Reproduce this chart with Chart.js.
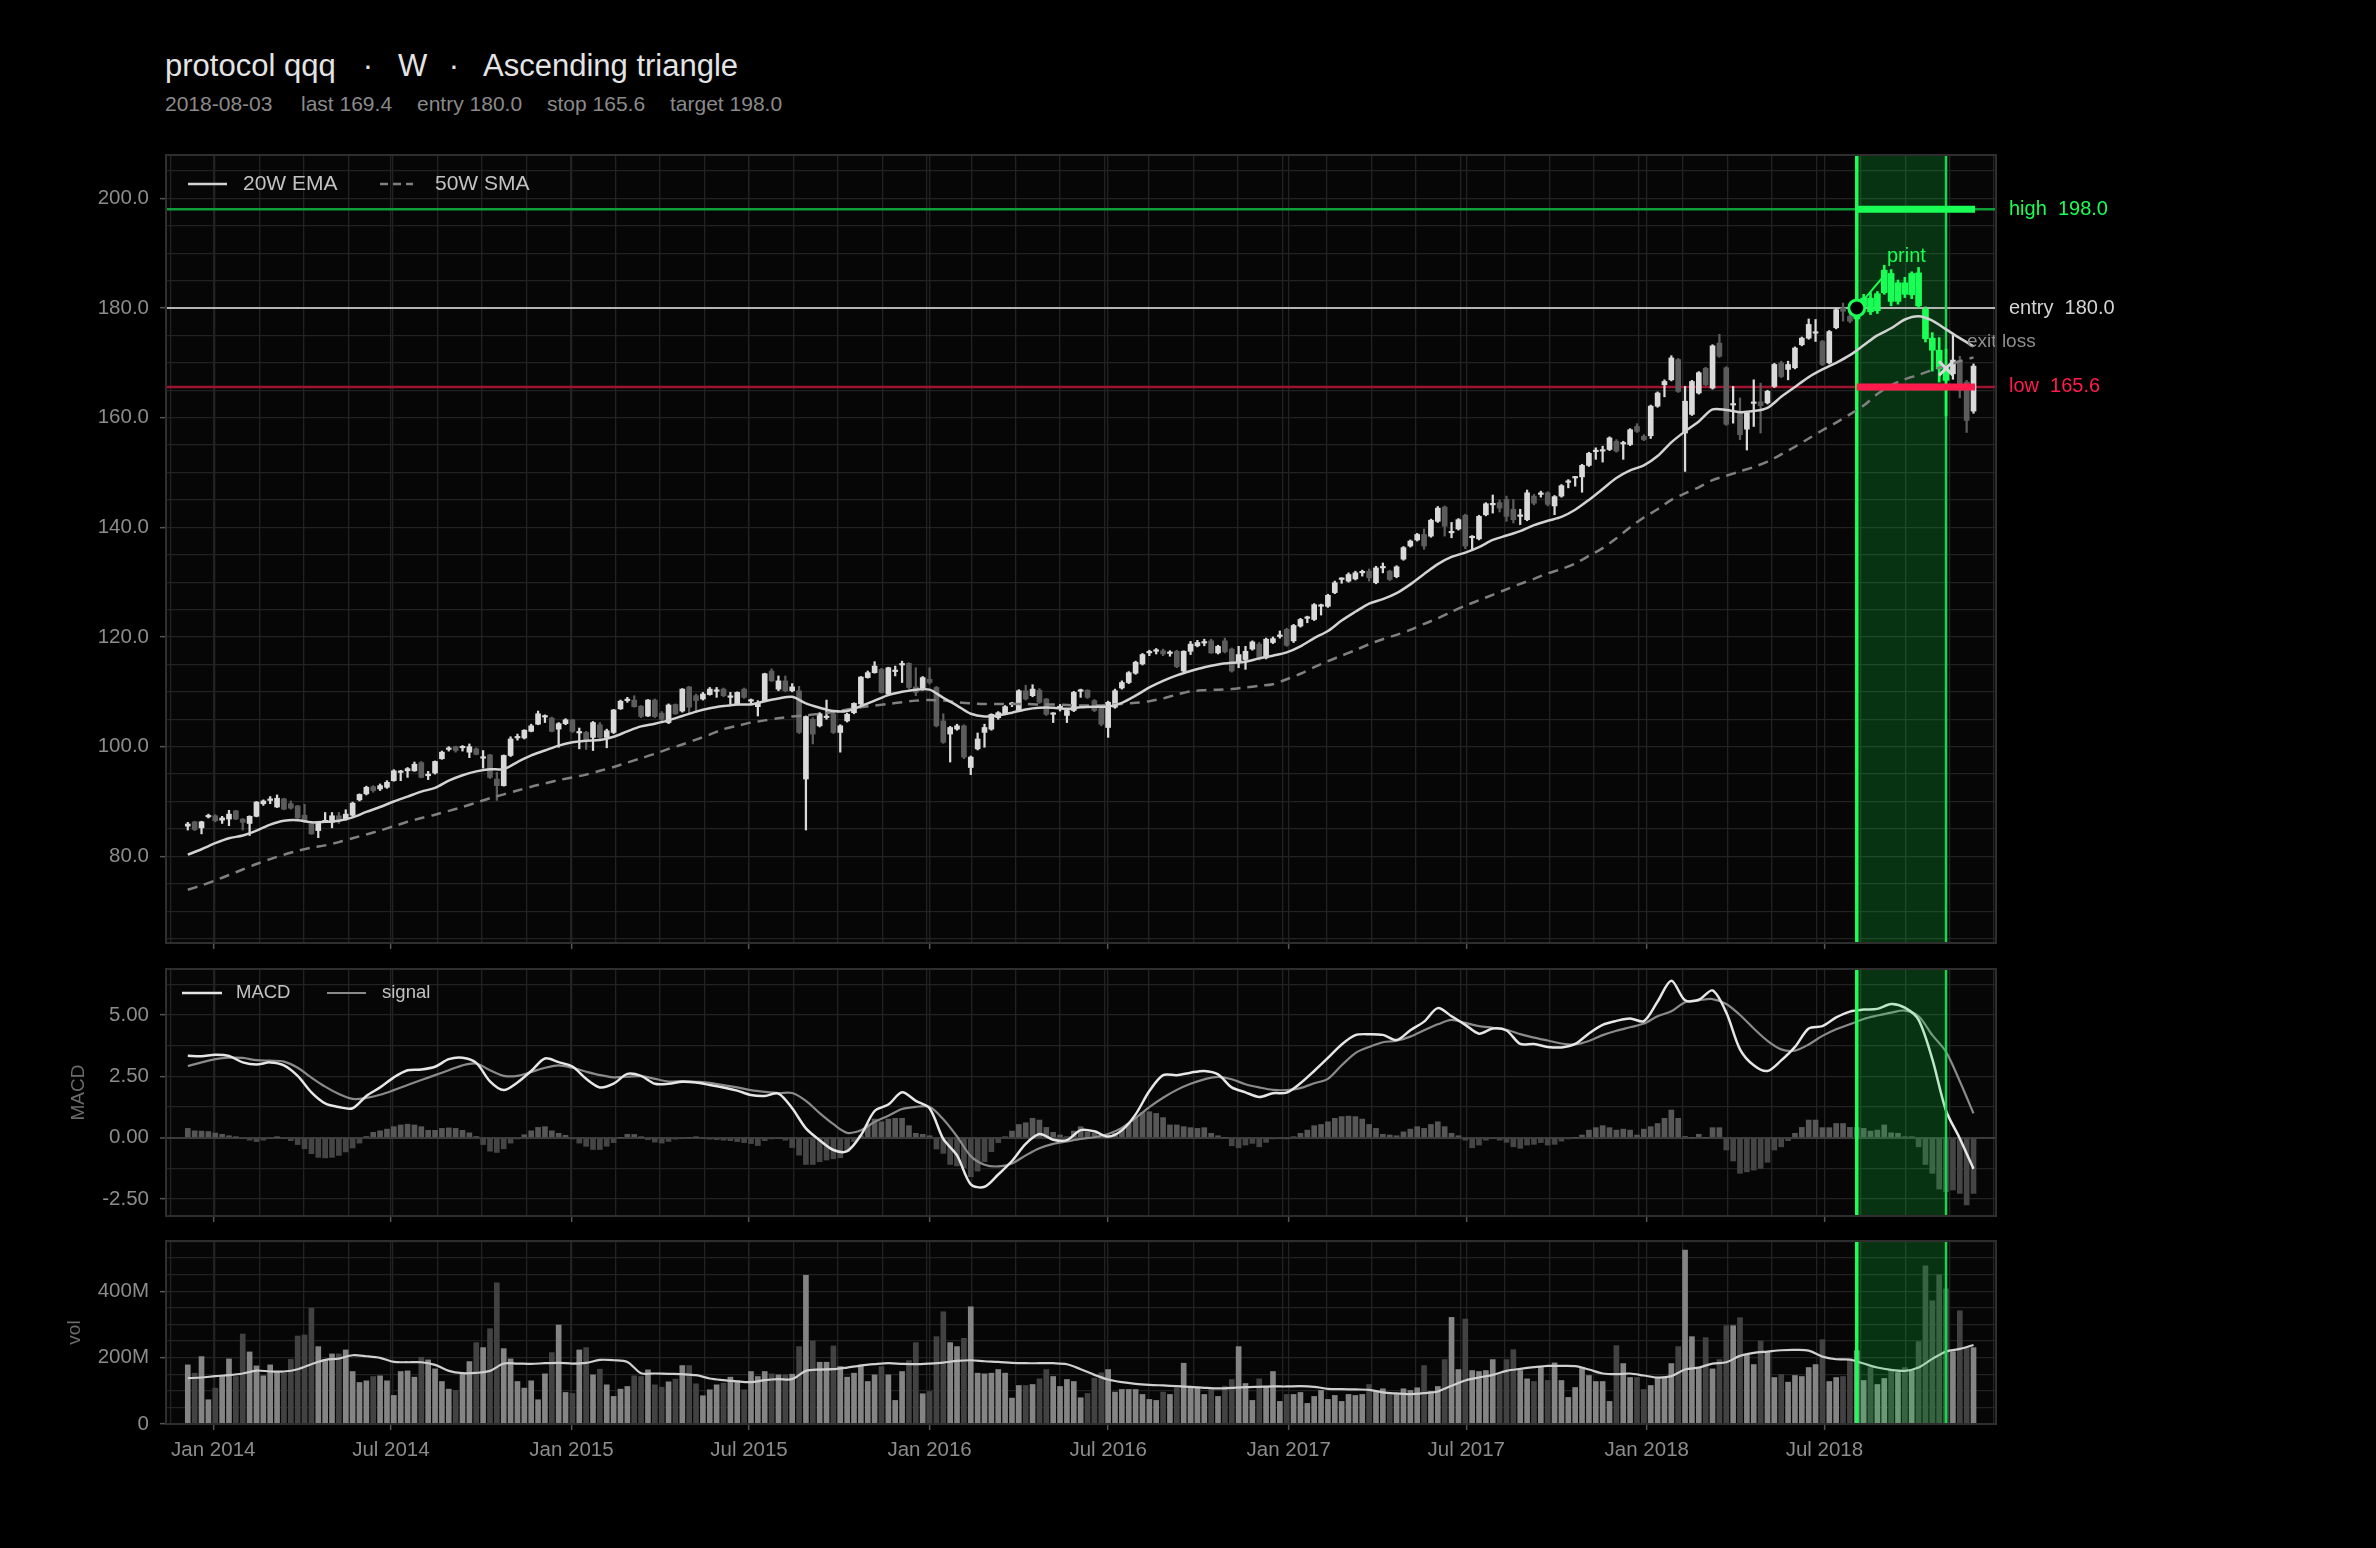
<!DOCTYPE html>
<html>
<head>
<meta charset="utf-8">
<script src="https://cdn.jsdelivr.net/npm/chart.js@4.4.1/dist/chart.umd.min.js"></script>
<style>
  html, body { margin: 0; padding: 0; background: #000; }
  body { width: 2376px; height: 1548px; position: relative; overflow: hidden;
         font-family: "Liberation Sans", Arial, Helvetica, sans-serif; }
  canvas { position: absolute; left: 0; }
  .ttl { position: absolute; top: 48px; font-size: 31px; line-height: 35px; color: #e4e4e4; white-space: pre; }
  .dot { transform: translateX(-50%); }
  .sub { position: absolute; top: 92px; font-size: 21px; line-height: 24px; color: #8a8a8a; white-space: pre; }
</style>
</head>
<body>
<div id="title"></div>
<div id="subtitle"></div>
<canvas id="cMain" width="2376" height="967" style="top:0px"></canvas>
<canvas id="cMacd" width="2376" height="296" style="top:944px"></canvas>
<canvas id="cVol" width="2376" height="333" style="top:1215px"></canvas>
<script>
// ---------- data (weekly bars, first bar = week ending 2013-12-06) ----------
const symbol = 'protocol qqq';
const timeframe = 'W';
const patternName = 'Ascending triangle';
const startDate = '2013-12-06';

const opens = [
  85.5, 86.3, 85.2, 87.2, 87.4, 86.6, 86.8, 88.3, 86.8, 86.0,
  87.3, 89.6, 90.2, 89.0, 90.5, 89.6, 89.2, 87.5, 85.9, 84.7,
  86.3, 86.2, 87.4, 86.8, 87.5, 90.3, 91.4, 92.7, 92.3, 92.6,
  93.8, 95.3, 95.6, 95.6, 97.1, 94.7, 95.2, 97.8, 99.5, 100.0,
  99.8, 99.0, 99.6, 97.9, 98.5, 94.1, 92.9, 98.4, 101.6, 101.6,
  102.8, 104.1, 105.4, 105.2, 103.2, 104.2, 104.9, 102.5, 102.6, 101.7,
  104.0, 101.7, 102.6, 106.9, 108.4, 108.5, 107.4, 105.6, 108.5, 106.1,
  104.4, 107.7, 106.5, 110.9, 109.3, 108.7, 109.5, 110.1, 110.5, 109.0,
  107.8, 110.5, 108.3, 107.3, 108.4, 113.8, 110.5, 112.0, 110.2, 110.2,
  94.1, 105.0, 103.8, 105.3, 106.0, 102.6, 104.7, 106.2, 107.8, 112.6,
  113.5, 114.1, 109.6, 113.7, 114.9, 115.2, 110.9, 110.5, 112.3, 110.8,
  104.7, 102.3, 103.2, 103.8, 96.2, 99.6, 102.6, 103.2, 105.3, 105.9,
  107.7, 106.6, 110.2, 109.3, 110.3, 108.7, 105.9, 107.1, 105.7, 106.6,
  110.1, 110.3, 108.4, 107.2, 103.5, 107.2, 110.7, 111.7, 113.4, 115.1,
  117.1, 117.4, 117.5, 117.0, 117.4, 113.8, 117.4, 118.4, 118.9, 119.3,
  117.1, 119.3, 117.8, 115.3, 115.9, 117.8, 118.7, 116.2, 119.0, 120.1,
  121.4, 119.3, 122.0, 123.4, 123.2, 125.6, 125.6, 128.1, 130.5, 130.2,
  130.6, 131.7, 132.0, 129.9, 132.6, 132.0, 131.0, 134.2, 136.6, 137.7,
  138.7, 138.4, 141.1, 143.7, 139.0, 139.7, 142.2, 138.1, 137.9, 142.3,
  144.1, 144.5, 145.1, 143.3, 142.0, 141.4, 145.7, 146.0, 146.3, 143.9,
  145.7, 148.2, 149.0, 149.2, 151.3, 153.8, 153.9, 154.2, 155.7, 155.2,
  155.1, 158.4, 156.6, 156.7, 162.1, 166.0, 166.9, 170.6, 157.2, 160.6,
  164.5, 169.0, 165.4, 173.6, 169.1, 162.3, 160.9, 157.9, 162.6, 162.9,
  162.7, 165.7, 170.0, 168.8, 169.1, 173.3, 174.5, 175.4, 173.9, 170.0,
  176.4, 180.0, 178.5, 178.0, 180.3, 181.8, 179.5, 182.8, 186.3, 181.2,
  184.6, 182.4, 186.4, 179.8, 174.5, 172.3, 169.0, 168.0, 170.4, 166.5,
  161.2
];
const highs = [
  86.2, 86.4, 86.4, 87.7, 87.6, 87.3, 88.4, 88.4, 86.9, 87.4,
  90.0, 90.3, 90.9, 91.2, 90.6, 90.1, 89.3, 89.5, 86.0, 86.3,
  88.0, 88.0, 88.0, 88.5, 89.9, 91.4, 92.8, 92.9, 93.2, 93.8,
  95.8, 95.7, 96.2, 97.2, 97.3, 95.5, 97.4, 99.2, 100.0, 100.1,
  100.2, 100.5, 99.8, 99.3, 98.6, 95.3, 98.5, 101.8, 102.3, 103.1,
  104.1, 106.5, 105.8, 105.4, 104.4, 105.1, 105.0, 103.4, 102.8, 104.6,
  104.4, 103.2, 106.8, 108.5, 109.0, 109.3, 107.5, 108.6, 108.7, 106.4,
  107.8, 107.8, 110.6, 111.0, 109.6, 109.9, 110.8, 110.8, 110.7, 109.9,
  110.0, 110.7, 108.7, 108.4, 113.4, 114.2, 112.9, 112.9, 111.5, 111.0,
  105.6, 105.3, 106.2, 108.5, 106.3, 104.0, 106.1, 108.0, 112.8, 113.8,
  115.5, 114.3, 114.5, 114.7, 115.6, 115.3, 114.4, 112.8, 114.4, 111.0,
  106.0, 103.7, 104.1, 104.0, 98.3, 102.5, 104.1, 106.0, 106.4, 107.5,
  108.1, 110.4, 111.2, 111.3, 110.6, 108.8, 106.2, 107.7, 106.8, 110.1,
  110.5, 110.4, 108.6, 107.3, 108.3, 110.5, 112.0, 113.7, 115.6, 117.0,
  117.6, 117.9, 117.8, 117.5, 117.6, 117.5, 119.2, 119.4, 119.6, 119.6,
  118.5, 119.8, 118.0, 118.3, 118.3, 119.3, 119.0, 119.8, 120.0, 121.1,
  121.6, 122.3, 123.4, 123.8, 126.1, 126.0, 127.8, 130.2, 130.8, 131.7,
  132.0, 132.2, 132.4, 132.9, 133.5, 132.2, 133.0, 136.5, 137.7, 138.9,
  139.7, 141.5, 143.8, 143.9, 140.9, 141.6, 142.4, 138.5, 142.2, 144.5,
  145.9, 145.0, 145.7, 145.1, 143.3, 146.8, 146.0, 146.6, 146.5, 145.8,
  147.8, 148.7, 149.3, 151.5, 153.7, 154.5, 154.8, 156.5, 156.0, 155.7,
  158.0, 158.9, 156.9, 162.3, 164.7, 166.9, 171.3, 170.8, 165.7, 166.8,
  168.4, 169.2, 173.3, 175.2, 169.3, 165.7, 163.6, 161.1, 166.9, 166.3,
  165.0, 169.9, 170.3, 170.3, 172.9, 174.7, 178.0, 177.9, 174.1, 175.9,
  179.9, 180.9, 180.5, 181.0, 182.5, 182.8, 183.0, 187.8, 187.0, 185.1,
  185.6, 186.6, 187.4, 180.2, 175.5, 174.6, 172.5, 175.0, 171.2, 166.8,
  169.8
];
const lows = [
  84.8, 84.7, 84.1, 87.0, 86.3, 86.0, 85.6, 86.7, 84.8, 83.8,
  87.2, 89.3, 89.6, 88.9, 88.5, 88.6, 86.9, 86.2, 84.0, 83.4,
  86.2, 85.2, 86.0, 86.6, 87.3, 90.1, 91.2, 91.7, 92.0, 92.4,
  93.7, 93.8, 94.4, 95.5, 94.3, 94.0, 95.0, 97.7, 99.2, 99.0,
  99.2, 98.0, 98.5, 96.1, 94.2, 90.2, 92.8, 98.2, 101.2, 101.4,
  102.7, 104.0, 104.4, 102.7, 99.9, 104.0, 102.6, 99.6, 99.5, 99.3,
  101.5, 99.8, 102.4, 106.8, 108.1, 107.2, 105.3, 105.5, 105.3, 104.6,
  104.2, 105.9, 106.3, 106.0, 106.2, 108.5, 109.4, 109.0, 109.1, 107.8,
  107.6, 108.8, 107.8, 105.6, 108.2, 111.9, 110.2, 110.0, 110.0, 102.4,
  84.8, 100.5, 103.6, 105.0, 102.4, 99.0, 104.5, 106.0, 107.6, 112.5,
  113.4, 109.8, 109.4, 112.9, 111.7, 110.6, 109.3, 110.3, 111.4, 103.6,
  100.6, 97.2, 103.0, 97.8, 94.9, 99.4, 99.9, 103.0, 105.0, 105.8,
  107.3, 106.4, 108.5, 109.1, 107.9, 105.7, 104.4, 106.5, 104.4, 106.4,
  109.0, 108.8, 106.4, 103.8, 101.7, 107.0, 110.5, 111.5, 113.2, 114.9,
  116.6, 116.9, 116.6, 116.5, 114.4, 113.6, 116.8, 118.2, 118.4, 117.0,
  116.9, 117.1, 113.6, 114.4, 114.1, 117.6, 115.8, 116.0, 118.8, 119.8,
  118.3, 119.0, 121.8, 122.6, 123.0, 124.0, 125.4, 127.9, 129.8, 130.0,
  130.4, 131.1, 130.2, 129.7, 131.7, 130.3, 130.8, 134.0, 136.4, 137.5,
  136.0, 138.2, 140.9, 138.4, 138.1, 139.5, 136.1, 135.9, 137.7, 142.1,
  142.6, 142.8, 141.1, 140.8, 140.5, 141.2, 144.1, 145.5, 143.9, 142.3,
  145.5, 147.2, 147.5, 146.4, 151.1, 152.4, 151.9, 154.0, 153.7, 152.4,
  154.9, 157.3, 155.8, 156.2, 161.9, 163.8, 166.7, 164.6, 150.2, 160.4,
  164.3, 165.8, 165.2, 171.0, 158.6, 159.0, 156.0, 154.1, 158.4, 157.2,
  162.5, 165.5, 167.3, 166.9, 168.9, 173.1, 174.3, 173.9, 169.5, 169.8,
  176.2, 177.6, 177.3, 177.2, 179.8, 178.8, 179.0, 182.5, 180.4, 180.7,
  181.9, 181.7, 180.0, 173.8, 168.5, 166.5, 160.3, 167.0, 163.6, 157.3,
  160.8
];
const closes = [
  85.9, 84.9, 86.3, 87.4, 86.5, 87.0, 87.7, 86.8, 86.2, 87.3,
  89.9, 90.1, 90.4, 90.6, 88.6, 88.8, 87.0, 86.5, 84.1, 86.2,
  86.5, 87.4, 86.6, 87.7, 89.7, 91.3, 92.6, 92.0, 92.9, 93.5,
  95.6, 95.4, 96.0, 96.8, 94.4, 95.0, 97.3, 99.0, 99.6, 99.3,
  99.9, 100.0, 98.6, 98.0, 94.4, 92.9, 98.4, 101.4, 101.8, 103.0,
  103.8, 106.0, 105.5, 102.8, 104.2, 104.9, 102.8, 102.6, 101.1, 104.4,
  101.7, 102.9, 106.7, 108.3, 108.5, 107.3, 105.5, 108.5, 105.5, 105.0,
  107.6, 106.0, 110.5, 107.2, 108.4, 109.6, 110.5, 110.2, 109.3, 109.1,
  109.9, 109.0, 108.4, 107.9, 113.3, 112.0, 112.0, 110.2, 110.9, 102.6,
  105.5, 102.3, 106.0, 105.5, 102.6, 103.8, 105.9, 107.9, 112.7, 113.5,
  114.7, 109.9, 114.4, 113.8, 115.0, 110.8, 109.9, 112.6, 111.7, 103.8,
  100.8, 103.5, 103.8, 98.1, 98.1, 101.4, 103.5, 105.9, 106.2, 107.3,
  107.8, 110.2, 108.7, 110.5, 108.1, 105.9, 106.0, 107.2, 106.6, 109.9,
  110.2, 109.0, 106.6, 104.1, 108.1, 110.2, 111.7, 113.5, 115.4, 116.8,
  117.2, 117.5, 116.9, 117.1, 114.6, 117.4, 118.7, 119.0, 119.0, 117.1,
  118.3, 117.3, 113.8, 116.8, 117.4, 119.1, 116.0, 119.6, 119.7, 120.2,
  118.5, 122.1, 123.2, 123.5, 125.9, 125.7, 127.6, 129.9, 130.6, 131.4,
  131.7, 131.8, 130.8, 132.6, 132.7, 130.5, 132.8, 136.3, 137.5, 138.7,
  136.6, 141.3, 143.5, 140.2, 139.1, 141.4, 136.6, 138.2, 142.0, 144.3,
  144.2, 143.5, 142.0, 141.4, 142.1, 146.3, 144.4, 146.1, 144.2, 145.6,
  147.6, 148.3, 149.1, 151.3, 153.5, 153.9, 154.0, 156.3, 153.9, 155.3,
  157.8, 157.5, 156.0, 162.1, 164.5, 166.6, 170.9, 164.8, 163.0, 166.6,
  168.2, 166.0, 173.1, 171.2, 158.8, 162.4, 156.9, 160.9, 162.7, 162.2,
  164.8, 169.7, 167.5, 169.7, 172.7, 174.5, 177.0, 175.5, 169.7, 175.7,
  179.7, 179.4, 177.6, 180.3, 181.8, 179.3, 182.6, 186.9, 181.2, 184.6,
  182.5, 186.3, 180.4, 174.4, 172.3, 168.9, 166.8, 170.5, 165.0, 159.5,
  169.4
];
// weekly volume, millions of shares
const volumes = [
  178, 153, 203, 73, 108, 143, 196, 143, 271, 217,
  175, 145, 178, 155, 153, 195, 265, 268, 349, 233,
  193, 211, 211, 223, 158, 125, 130, 143, 145, 130,
  86, 158, 160, 141, 201, 193, 166, 128, 105, 101,
  153, 188, 245, 230, 287, 425, 227, 196, 128, 108,
  130, 73, 151, 215, 298, 95, 92, 223, 230, 148,
  165, 118, 83, 105, 113, 145, 143, 163, 118, 111,
  127, 135, 176, 176, 121, 85, 103, 118, 123, 141,
  131, 103, 158, 143, 158, 151, 148, 148, 150, 233,
  448, 250, 186, 186, 235, 173, 141, 153, 178, 128,
  148, 173, 148, 71, 158, 191, 245, 91, 98, 263,
  338, 245, 233, 258, 353, 153, 151, 153, 164, 153,
  78, 116, 116, 119, 136, 164, 143, 113, 134, 128,
  79, 92, 138, 154, 164, 96, 104, 104, 104, 89,
  74, 71, 96, 89, 109, 183, 111, 111, 89, 104,
  83, 114, 134, 233, 122, 71, 136, 113, 158, 68,
  89, 89, 95, 62, 83, 101, 74, 86, 68, 89,
  86, 89, 119, 96, 106, 89, 89, 106, 101, 109,
  176, 98, 113, 194, 321, 164, 316, 161, 158, 161,
  194, 151, 194, 224, 161, 136, 128, 171, 131, 184,
  131, 80, 110, 171, 146, 128, 128, 68, 236, 182,
  140, 140, 104, 116, 138, 138, 182, 233, 524, 263,
  168, 260, 166, 194, 296, 296, 320, 209, 179, 250,
  218, 140, 149, 126, 146, 143, 170, 179, 254, 128,
  140, 143, 191, 221, 131, 170, 119, 137, 164, 155,
  170, 161, 248, 476, 371, 449, 407, 218, 341, 230,
  230
];
// indicator lines, sampled every 2nd week (weeks 0, 2, 4, ...)
const ema20 = [
  80.3, 81.3, 82.4, 83.3, 83.8, 84.7, 85.8, 86.5, 86.6, 86.2,
  86.3, 86.5, 87.1, 88.1, 89.0, 90.0, 90.9, 91.8, 92.5, 93.8,
  94.8, 95.5, 95.9, 95.9, 97.2, 98.4, 99.3, 100.2, 100.8, 101.1,
  101.2, 101.8, 102.8, 103.7, 104.2, 104.8, 105.6, 106.4, 107.0, 107.4,
  107.7, 107.7, 108.3, 108.8, 109.1, 107.9, 107.1, 106.5, 106.5, 107.4,
  108.4, 109.4, 110.0, 110.4, 110.4, 108.9, 107.5, 106.0, 105.5, 105.7,
  106.2, 106.8, 107.1, 107.1, 106.9, 107.2, 107.3, 107.3, 108.0, 109.3,
  110.8, 112.0, 113.0, 113.8, 114.5, 115.0, 115.3, 115.5, 116.1, 116.6,
  117.2, 118.3, 119.8, 121.1, 123.0, 124.6, 126.1, 126.9, 128.0, 129.6,
  131.5, 133.3, 134.6, 135.4, 136.4, 137.7, 138.5, 139.3, 140.4, 141.2,
  141.9, 143.2, 145.0, 147.0, 149.0, 150.4, 151.3, 153.0, 155.5, 157.5,
  159.3, 161.5, 161.4, 161.0, 161.2, 161.8, 163.8, 165.6, 167.4, 168.8,
  170.0, 171.4, 173.2, 175.0, 176.3, 177.9, 178.5, 177.7, 176.1, 174.5,
  173.0
];
const sma50 = [
  73.9, 74.7, 75.6, 76.6, 77.6, 78.6, 79.5, 80.3, 81.0, 81.6,
  82.0, 82.6, 83.3, 84.0, 84.7, 85.5, 86.3, 87.0, 87.6, 88.3,
  89.0, 89.8, 90.6, 91.3, 92.0, 92.7, 93.3, 93.9, 94.4, 94.9,
  95.6, 96.3, 97.1, 97.9, 98.7, 99.6, 100.4, 101.3, 102.2, 103.2,
  103.8, 104.4, 104.8, 105.2, 105.5, 105.7, 106.0, 106.3, 106.8, 107.2,
  107.5, 107.8, 108.1, 108.4, 108.5, 108.4, 108.1, 107.9, 107.8, 107.8,
  107.8, 107.8, 107.7, 107.7, 107.6, 107.5, 107.5, 107.6, 107.8, 108.0,
  108.3, 108.8, 109.5, 110.1, 110.3, 110.4, 110.5, 110.8, 111.1, 111.4,
  112.3, 113.3, 114.5, 115.6, 116.6, 117.6, 118.7, 119.6, 120.4, 121.3,
  122.4, 123.4, 124.6, 125.7, 126.7, 127.7, 128.7, 129.7, 130.6, 131.6,
  132.4, 133.4, 134.8, 136.2, 138.0, 140.0, 141.8, 143.3, 145.0, 146.2,
  147.3, 148.6, 149.4, 150.2, 151.0, 152.0, 153.3, 154.7, 156.2, 157.7,
  159.1, 160.6, 162.2, 164.3, 165.9, 167.0, 167.8, 168.7, 169.5, 170.3,
  171.0
];
const volMa = [
  138, 140, 144, 147, 152, 161, 158, 158, 165, 180,
  193, 197, 207, 204, 199, 187, 186, 186, 178, 160,
  153, 154, 160, 182, 182, 181, 183, 184, 182, 184,
  193, 192, 187, 153, 152, 151, 150, 147, 137, 132,
  128, 126, 132, 135, 135, 160, 164, 165, 170, 176,
  180, 183, 181, 180, 182, 185, 190, 192, 189, 187,
  184, 183, 183, 183, 180, 165, 148, 134, 126, 121,
  118, 116, 114, 112, 109, 107, 109, 111, 112, 113,
  113, 114, 112, 106, 105, 104, 103, 95, 92, 90,
  93, 98, 115, 131, 140, 148, 160, 166, 171, 175,
  175, 174, 164, 152, 150, 152, 146, 140, 144, 164,
  170, 182, 186, 205, 214, 218, 222, 223, 221, 203,
  195, 194, 182, 170, 163, 160, 170, 196, 218, 226,
  238
];
const macdLine = [
  3.34, 3.32, 3.38, 3.33, 3.07, 2.98, 3.07, 2.95, 2.52, 1.85,
  1.40, 1.25, 1.20, 1.70, 2.05, 2.46, 2.75, 2.78, 2.89, 3.20,
  3.26, 3.05, 2.30, 1.94, 2.25, 2.72, 3.23, 3.08, 2.90, 2.40,
  2.05, 2.20, 2.60, 2.52, 2.20, 2.20, 2.28, 2.25, 2.15, 2.05,
  1.92, 1.74, 1.70, 1.80, 1.20, 0.38, -0.10, -0.50, -0.55, 0.10,
  1.09, 1.35, 1.85, 1.50, 1.20, -0.05, -0.72, -1.90, -2.00, -1.50,
  -0.95, -0.25, 0.15, -0.08, -0.10, 0.31, 0.26, 0.05, 0.30, 0.95,
  1.90, 2.55, 2.55, 2.65, 2.72, 2.58, 2.05, 1.85, 1.66, 1.81,
  1.84, 2.22, 2.72, 3.25, 3.80, 4.18, 4.22, 4.19, 3.98, 4.38,
  4.73, 5.28, 4.95, 4.60, 4.24, 4.45, 4.37, 3.82, 3.82, 3.70,
  3.68, 3.82, 4.25, 4.60, 4.76, 4.86, 4.75, 5.55, 6.40, 5.60,
  5.62, 6.00, 5.10, 3.60, 2.95, 2.72, 3.15, 3.70, 4.45, 4.55,
  4.90, 5.14, 5.22, 5.25, 5.45, 5.30, 4.80, 3.20, 1.10, -0.03,
  -1.27
];
const macdSignal = [
  2.92, 3.07, 3.20, 3.26, 3.25, 3.16, 3.14, 3.10, 2.85, 2.45,
  2.08, 1.78, 1.58, 1.62, 1.75, 1.94, 2.15, 2.35, 2.55, 2.75,
  2.95, 3.02, 2.75, 2.52, 2.52, 2.68, 2.85, 2.95, 2.85, 2.69,
  2.55, 2.46, 2.49, 2.51, 2.40, 2.29, 2.31, 2.28, 2.24, 2.14,
  2.05, 1.94, 1.87, 1.82, 1.82, 1.50, 1.00, 0.55, 0.20, 0.30,
  0.65, 0.90, 1.17, 1.26, 1.26, 0.75, 0.05, -0.75, -1.10, -1.17,
  -1.05, -0.72, -0.43, -0.25, -0.15, -0.05, 0.02, 0.15, 0.40, 0.80,
  1.25, 1.63, 1.95, 2.20, 2.38, 2.48, 2.38, 2.18, 2.05, 1.95,
  1.94, 2.02, 2.22, 2.40, 2.95, 3.45, 3.70, 3.89, 3.95, 4.12,
  4.38, 4.62, 4.80, 4.68, 4.55, 4.48, 4.40, 4.22, 4.08, 3.96,
  3.84, 3.80, 3.94, 4.18, 4.36, 4.50, 4.65, 4.95, 5.15, 5.52,
  5.60, 5.65, 5.45, 5.00, 4.45, 3.95, 3.60, 3.55, 3.80, 4.15,
  4.42, 4.62, 4.84, 4.98, 5.10, 5.18, 4.95, 4.18, 3.50, 2.30,
  0.99
];
// weekly MACD histogram
const macdHist = [
  0.38, 0.28, 0.27, 0.25, 0.19, 0.14, 0.08, 0.02, -0.03, -0.10,
  -0.16, -0.10, -0.02, 0.01, -0.03, -0.12, -0.28, -0.45, -0.65, -0.80,
  -0.82, -0.80, -0.72, -0.58, -0.42, -0.22, 0.05, 0.22, 0.28, 0.35,
  0.45, 0.52, 0.55, 0.52, 0.45, 0.30, 0.30, 0.38, 0.40, 0.38,
  0.30, 0.20, 0.05, -0.28, -0.55, -0.60, -0.45, -0.22, -0.05, 0.12,
  0.28, 0.42, 0.45, 0.28, 0.18, 0.10, -0.05, -0.22, -0.35, -0.48,
  -0.48, -0.35, -0.20, 0.00, 0.14, 0.13, 0.02, -0.08, -0.18, -0.22,
  -0.15, -0.06, -0.02, 0.00, 0.02, -0.03, -0.06, -0.08, -0.10, -0.12,
  -0.16, -0.20, -0.24, -0.32, -0.12, -0.05, -0.02, -0.10, -0.40, -0.71,
  -1.09, -1.09, -0.98, -0.91, -0.86, -0.82, -0.57, -0.16, 0.08, 0.52,
  0.76, 0.65, 0.76, 0.79, 0.79, 0.49, 0.18, 0.14, 0.08, -0.46,
  -0.64, -1.09, -1.15, -1.22, -1.59, -1.36, -0.98, -0.57, -0.20, 0.04,
  0.27, 0.54, 0.61, 0.79, 0.72, 0.42, 0.22, 0.11, 0.04, 0.27,
  0.45, 0.24, 0.18, 0.00, 0.04, 0.18, 0.38, 0.58, 0.79, 1.02,
  1.06, 0.99, 0.82, 0.52, 0.52, 0.45, 0.41, 0.38, 0.41, 0.18,
  0.08, 0.00, -0.33, -0.41, -0.30, -0.23, -0.37, -0.19, -0.05, -0.03,
  -0.05, 0.04, 0.18, 0.31, 0.49, 0.54, 0.65, 0.79, 0.86, 0.88,
  0.86, 0.76, 0.54, 0.38, 0.14, 0.11, 0.08, 0.24, 0.35, 0.45,
  0.38, 0.54, 0.65, 0.45, 0.18, 0.08, -0.10, -0.41, -0.30, -0.10,
  -0.03, -0.10, -0.19, -0.37, -0.43, -0.30, -0.27, -0.20, -0.30, -0.27,
  -0.14, -0.05, 0.00, 0.11, 0.31, 0.41, 0.49, 0.41, 0.31, 0.35,
  0.31, 0.11, 0.35, 0.45, 0.58, 0.79, 1.13, 0.79, 0.05, 0.00,
  0.14, 0.00, 0.41, 0.41, -0.50, -0.95, -1.45, -1.39, -1.32, -1.25,
  -1.00, -0.50, -0.37, -0.12, 0.18, 0.42, 0.72, 0.72, 0.41, 0.41,
  0.58, 0.58, 0.42, 0.42, 0.38, 0.27, 0.31, 0.52, 0.20, 0.18,
  0.04, 0.04, -0.37, -1.09, -1.45, -2.09, -2.20, -2.13, -2.27, -2.74,
  -2.27
];
// trade setup
const signalWeek = 243;      // 2018-08-03
const windowEndWeek = 256;
const entryPrice = 180.0;
const stopPrice = 165.6;
const targetPrice = 198.0;
const exitWeek = 256;
const exitPrice = 169.0;
// axis labels
const xTickDates = ['2014-01-01', '2014-07-01', '2015-01-01', '2015-07-01', '2016-01-01',
                    '2016-07-01', '2017-01-01', '2017-07-01', '2018-01-01', '2018-07-01'];
const xTickLabels = ['Jan 2014', 'Jul 2014', 'Jan 2015', 'Jul 2015', 'Jan 2016',
                     'Jul 2016', 'Jan 2017', 'Jul 2017', 'Jan 2018', 'Jul 2018'];

// ---------- helpers ----------
const FONT = '"Liberation Sans", Arial, Helvetica, sans-serif';
const TICK_COL = '#8c8c8c', GRID_COL = '#222222', TICKMARK_COL = '#555555', BORDER_COL = '#2e2e2e';
const CLEAR = 'rgba(0,0,0,0)';
const SIG = '#1aff55';
const BAND = 'rgba(20,235,70,0.2)';
const X_MIN = -48.2, X_MAX = 1816.9;

const DAY0 = Date.UTC(2014, 0, 1);
const dayOf = s => (Date.parse(s + 'T00:00:00Z') - DAY0) / 864e5;
const firstDay = dayOf(startDate);
const wx = i => firstDay + 7 * i;
const fmtDate = i => new Date(DAY0 + wx(i) * 864e5).toISOString().slice(0, 10);

const majorDays = xTickDates.map(dayOf);
const minorDays = [];
for (let k = -1; k <= 40; k++) minorDays.push(1.8 + 45.33 * k);
const xTicks = majorDays.concat(minorDays).filter(d => d > X_MIN && d < X_MAX).sort((a, b) => a - b);
const majorIndex = d => majorDays.findIndex(m => Math.abs(m - d) < 1e-6);
const range = (a, b, s) => { const r = []; for (let v = a; v <= b + 1e-9; v += s) r.push(+v.toFixed(4)); return r; };
const isMult = (v, m) => Math.abs(v / m - Math.round(v / m)) < 1e-6;

// title and subtitle
function addText(parent, cls, left, text) {
  const d = document.createElement('div');
  d.className = cls; d.style.left = left + 'px'; d.textContent = text;
  document.getElementById(parent).appendChild(d);
}
addText('title', 'ttl', 165, symbol);
addText('title', 'ttl dot', 368, '·');
addText('title', 'ttl', 398, timeframe);
addText('title', 'ttl dot', 454, '·');
addText('title', 'ttl', 483, patternName);
const subParts = [fmtDate(signalWeek), 'last ' + closes[closes.length - 1].toFixed(1),
  'entry ' + entryPrice.toFixed(1), 'stop ' + stopPrice.toFixed(1), 'target ' + targetPrice.toFixed(1)];
const subX = [165, 301, 417, 547, 670];
subParts.forEach((t, k) => addText('subtitle', 'sub', subX[k], t));

function xAxis(withLabels) {
  return {
    type: 'linear', min: X_MIN, max: X_MAX, offset: false,
    afterBuildTicks: s => { s.ticks = xTicks.map(v => ({ value: v })); },
    afterFit: s => { s.height = withLabels ? 40 : 6; },
    border: { display: false },
    grid: { color: GRID_COL, lineWidth: 1.3, offset: false, tickLength: 6, tickWidth: 1.5,
      tickColor: c => majorIndex(c.tick.value) >= 0 ? TICKMARK_COL : CLEAR },
    ticks: { display: withLabels, autoSkip: false, maxRotation: 0, minRotation: 0, padding: 8,
      color: TICK_COL, font: { family: FONT, size: 20.5 },
      callback: v => { const k = majorIndex(v); return k >= 0 ? xTickLabels[k] : ''; } }
  };
}
function yAxis(min, max, ticks, labeled, fmt, zero) {
  const isZero = v => zero && Math.abs(v) < 1e-9;
  return {
    type: 'linear', position: 'left', min, max,
    afterBuildTicks: s => { s.ticks = ticks.map(v => ({ value: v })); },
    afterFit: s => { s.width = 166; },
    border: { display: false },
    grid: { color: c => isZero(c.tick.value) ? '#3c3c3c' : GRID_COL,
      lineWidth: c => isZero(c.tick.value) ? 2 : 1.3, tickLength: 6, tickWidth: 1.5,
      tickColor: c => labeled(c.tick.value) ? TICKMARK_COL : CLEAR },
    ticks: { autoSkip: false, padding: 11, color: TICK_COL, font: { family: FONT, size: 20.5 },
      callback: v => labeled(v) ? fmt(v) : '' }
  };
}
function hLine(ctx, x0, x1, y, col, w) {
  ctx.strokeStyle = col; ctx.lineWidth = w; ctx.setLineDash([]);
  ctx.beginPath(); ctx.moveTo(x0, y); ctx.lineTo(x1, y); ctx.stroke();
}
function vLine(ctx, x, y0, y1, col, w) {
  ctx.strokeStyle = col; ctx.lineWidth = w; ctx.setLineDash([]);
  ctx.beginPath(); ctx.moveTo(x, y0); ctx.lineTo(x, y1); ctx.stroke();
}
function panelBg(chart) {
  const { ctx, chartArea: a } = chart;
  ctx.save(); ctx.fillStyle = '#060606'; ctx.fillRect(a.left, a.top, a.right - a.left, a.bottom - a.top); ctx.restore();
}
function panelBorder(chart) {
  const { ctx, chartArea: a } = chart;
  ctx.save(); ctx.strokeStyle = BORDER_COL; ctx.lineWidth = 2;
  ctx.strokeRect(a.left, a.top, a.right - a.left, a.bottom - a.top); ctx.restore();
}
function windowOverlay(chart) {
  const { ctx, chartArea: a, scales: { x } } = chart;
  const x0 = x.getPixelForValue(wx(signalWeek)), x1 = x.getPixelForValue(wx(windowEndWeek));
  ctx.save();
  ctx.fillStyle = BAND; ctx.fillRect(x0, a.top, x1 - x0, a.bottom - a.top);
  vLine(ctx, x0, a.top, a.bottom, SIG, 3.5);
  vLine(ctx, x1, a.top, a.bottom, '#17d84c', 2.5);
  ctx.restore();
}
function axisTitle(ctx, text, cx, cy) {
  ctx.save(); ctx.translate(cx, cy); ctx.rotate(-Math.PI / 2);
  ctx.font = '19px ' + FONT; ctx.fillStyle = '#6c6c6c'; ctx.textAlign = 'center'; ctx.textBaseline = 'middle';
  ctx.fillText(text, 0, 0); ctx.restore();
}
function legendItem(ctx, x0, x1, tx, y, label, col, w, dash, font) {
  ctx.strokeStyle = col; ctx.lineWidth = w; ctx.setLineDash(dash);
  ctx.beginPath(); ctx.moveTo(x0, y); ctx.lineTo(x1, y); ctx.stroke(); ctx.setLineDash([]);
  ctx.font = font; ctx.fillStyle = '#c2c2c2'; ctx.textAlign = 'left'; ctx.textBaseline = 'middle';
  ctx.fillText(label, tx, y);
}

const baseOptions = (padding) => ({
  responsive: false, maintainAspectRatio: false, animation: false, events: [], devicePixelRatio: 1,
  layout: { padding },
  plugins: { legend: { display: false }, tooltip: { enabled: false } }
});

// ---------- main price panel ----------
const isUp = i => closes[i] >= opens[i];
const inWindow = i => i >= signalWeek && i <= windowEndWeek;
const allIdx = closes.map((c, i) => i);
const normIdx = allIdx.filter(i => !inWindow(i));
const sigIdx = allIdx.filter(inWindow);
const UP = '#dadada', DN = '#5c5c5c';
const body = i => ({ x: wx(i), y: [Math.min(opens[i], closes[i]), Math.max(opens[i], closes[i])] });
const wick = i => ({ x: wx(i), y: [lows[i], highs[i]] });
const every2 = arr => arr.map((v, k) => ({ x: wx(2 * k), y: v }));

const mainDecor = {
  id: 'mainDecor',
  beforeDraw: panelBg,
  beforeDatasetsDraw(chart) {
    const { ctx, chartArea: a, scales: { x, y } } = chart;
    const x0 = x.getPixelForValue(wx(signalWeek)), x1 = x.getPixelForValue(wx(windowEndWeek));
    ctx.save();
    ctx.fillStyle = BAND; ctx.fillRect(x0, a.top, x1 - x0, a.bottom - a.top);
    hLine(ctx, a.left, a.right, y.getPixelForValue(targetPrice), '#0f9f38', 2.5);
    hLine(ctx, a.left, a.right, y.getPixelForValue(entryPrice), '#b4b4b4', 2);
    hLine(ctx, a.left, a.right, y.getPixelForValue(stopPrice), '#9e1430', 2.5);
    vLine(ctx, x0, a.top, a.bottom, SIG, 3.5);
    vLine(ctx, x1, a.top, a.bottom, '#17d84c', 2.5);
    ctx.restore();
  },
  afterDatasetsDraw(chart) {
    const { ctx, scales: { x, y } } = chart;
    const xs = x.getPixelForValue(wx(signalWeek));
    const xw = x.getPixelForValue(wx(windowEndWeek));
    const xe = x.getPixelForValue(wx(closes.length - 1)) + 1.5;
    ctx.save();
    hLine(ctx, xs, xe, y.getPixelForValue(targetPrice), SIG, 7);
    hLine(ctx, xs, xe, y.getPixelForValue(stopPrice), '#ff1c4d', 7);
    // "print" label above the window high, with leader from the entry marker
    const hi = Math.max(...highs.slice(signalWeek, windowEndWeek + 1));
    const lx = (xs + xw) / 2 + 5, ly = y.getPixelForValue(hi) - 3.5;
    ctx.font = '20px ' + FONT; ctx.fillStyle = SIG; ctx.textAlign = 'center'; ctx.textBaseline = 'alphabetic';
    ctx.fillText('print', lx, ly);
    const my = y.getPixelForValue(entryPrice), ex = lx - 24, ey = ly + 16;
    const ang = Math.atan2(ey - my, ex - xs);
    ctx.strokeStyle = SIG; ctx.lineWidth = 2;
    ctx.beginPath(); ctx.moveTo(xs + 10 * Math.cos(ang), my + 10 * Math.sin(ang)); ctx.lineTo(ex, ey); ctx.stroke();
    // exit label
    const qx = x.getPixelForValue(wx(exitWeek)), qy = y.getPixelForValue(exitPrice);
    ctx.font = '19px ' + FONT; ctx.fillStyle = '#8e8e8e'; ctx.textAlign = 'left'; ctx.textBaseline = 'middle';
    ctx.fillText('exit loss', qx + 21, qy - 27);
    ctx.restore();
  },
  afterDraw(chart) {
    const { ctx, chartArea: a, scales: { y } } = chart;
    panelBorder(chart);
    ctx.save();
    ctx.font = '20px ' + FONT; ctx.textAlign = 'left'; ctx.textBaseline = 'middle';
    ctx.fillStyle = SIG; ctx.fillText('high  ' + targetPrice.toFixed(1), a.right + 13, y.getPixelForValue(targetPrice));
    ctx.fillStyle = '#d4d4d4'; ctx.fillText('entry  ' + entryPrice.toFixed(1), a.right + 13, y.getPixelForValue(entryPrice));
    ctx.fillStyle = '#ff1c4d'; ctx.fillText('low  ' + stopPrice.toFixed(1), a.right + 13, y.getPixelForValue(stopPrice));
    const f = '21px ' + FONT;
    legendItem(ctx, a.left + 22, a.left + 61, a.left + 77, a.top + 29, '20W EMA', '#d2d2d2', 2.5, [], f);
    legendItem(ctx, a.left + 214, a.left + 247, a.left + 269, a.top + 29, '50W SMA', '#808080', 2.5, [8, 5], f);
    ctx.restore();
  }
};

new Chart(document.getElementById('cMain'), {
  type: 'bar',
  data: {
    datasets: [
      { type: 'line', label: 'entry', data: [{ x: wx(signalWeek), y: entryPrice }], showLine: false,
        pointRadius: 8, pointBorderWidth: 3, pointBorderColor: SIG, pointBackgroundColor: '#000', order: 0 },
      { type: 'line', label: 'exit', data: [{ x: wx(exitWeek), y: exitPrice }], showLine: false,
        pointStyle: 'crossRot', pointRadius: 10, pointBorderWidth: 3, pointBorderColor: '#d8d8d8', order: 0 },
      { type: 'line', label: '20W EMA', data: every2(ema20), borderColor: '#d2d2d2', borderWidth: 2.5,
        pointRadius: 0, tension: 0.3, order: 1 },
      { type: 'line', label: '50W SMA', data: every2(sma50), borderColor: '#808080', borderWidth: 2.5,
        borderDash: [10, 7], pointRadius: 0, tension: 0.3, order: 2 },
      { label: 'signal body', data: sigIdx.map(body), backgroundColor: SIG, barThickness: 6,
        minBarLength: 1.5, grouped: false, order: 3 },
      { label: 'body', data: normIdx.map(body), backgroundColor: normIdx.map(i => isUp(i) ? UP : DN),
        barThickness: 5, minBarLength: 1.5, grouped: false, order: 3 },
      { label: 'signal wick', data: sigIdx.map(wick), backgroundColor: SIG, barThickness: 2,
        grouped: false, order: 4 },
      { label: 'wick', data: normIdx.map(wick), backgroundColor: normIdx.map(i => isUp(i) ? UP : DN),
        barThickness: 1.6, grouped: false, order: 4 }
    ]
  },
  options: Object.assign(baseOptions({ top: 155, bottom: 18, left: 0, right: 380 }), {
    scales: {
      x: xAxis(false),
      y: yAxis(64.2, 207.9, range(65, 205, 5), v => isMult(v, 20), v => v.toFixed(1), false)
    }
  }),
  plugins: [mainDecor]
});

// ---------- MACD panel ----------
const macdDecor = {
  id: 'macdDecor',
  beforeDraw: panelBg,
  afterDatasetsDraw: windowOverlay,
  afterDraw(chart) {
    const { ctx, chartArea: a } = chart;
    panelBorder(chart);
    ctx.save();
    const f = '18.5px ' + FONT;
    legendItem(ctx, a.left + 16, a.left + 56, a.left + 70, a.top + 24, 'MACD', '#e6e6e6', 2.5, [], f);
    legendItem(ctx, a.left + 161, a.left + 200, a.left + 216, a.top + 24, 'signal', '#8a8a8a', 2.2, [], f);
    ctx.restore();
    axisTitle(ctx, 'MACD', 79, (a.top + a.bottom) / 2);
  }
};
new Chart(document.getElementById('cMacd'), {
  type: 'bar',
  data: {
    datasets: [
      { type: 'line', label: 'MACD', data: every2(macdLine), borderColor: '#e6e6e6', borderWidth: 2.5,
        pointRadius: 0, tension: 0.3, order: 0 },
      { type: 'line', label: 'signal', data: every2(macdSignal), borderColor: '#8a8a8a', borderWidth: 2.2,
        pointRadius: 0, tension: 0.3, order: 1 },
      { label: 'hist', data: macdHist.map((h, i) => ({ x: wx(i), y: h })),
        backgroundColor: macdHist.map(h => h >= 0 ? '#575757' : '#454545'),
        barThickness: 5, grouped: false, order: 2 }
    ]
  },
  options: Object.assign(baseOptions({ top: 25, bottom: 18, left: 0, right: 380 }), {
    scales: {
      x: xAxis(false),
      y: yAxis(-3.19, 6.875, range(-2.5, 6.25, 1.25), v => isMult(v, 2.5), v => v.toFixed(2), true)
    }
  }),
  plugins: [macdDecor]
});

// ---------- volume panel ----------
const volDecor = {
  id: 'volDecor',
  beforeDraw: panelBg,
  afterDatasetsDraw: windowOverlay,
  afterDraw(chart) {
    const { ctx, chartArea: a } = chart;
    panelBorder(chart);
    axisTitle(ctx, 'vol', 75, (a.top + a.bottom) / 2);
  }
};
new Chart(document.getElementById('cVol'), {
  type: 'bar',
  data: {
    datasets: [
      { type: 'line', label: 'vol avg', data: every2(volMa), borderColor: '#cfcfcf', borderWidth: 2.2,
        pointRadius: 0, tension: 0.3, order: 0 },
      { label: 'vol', data: volumes.map((v, i) => ({ x: wx(i), y: v })),
        backgroundColor: volumes.map((v, i) => isUp(i) ? '#848484' : '#424242'),
        barThickness: 5, grouped: false, order: 1 }
    ]
  },
  options: Object.assign(baseOptions({ top: 26, bottom: 84, left: 0, right: 380 }), {
    scales: {
      x: xAxis(true),
      y: yAxis(0, 551, range(0, 550, 50), v => isMult(v, 200), v => v === 0 ? '0' : v + 'M', false)
    }
  }),
  plugins: [volDecor]
});
</script>
</body>
</html>
